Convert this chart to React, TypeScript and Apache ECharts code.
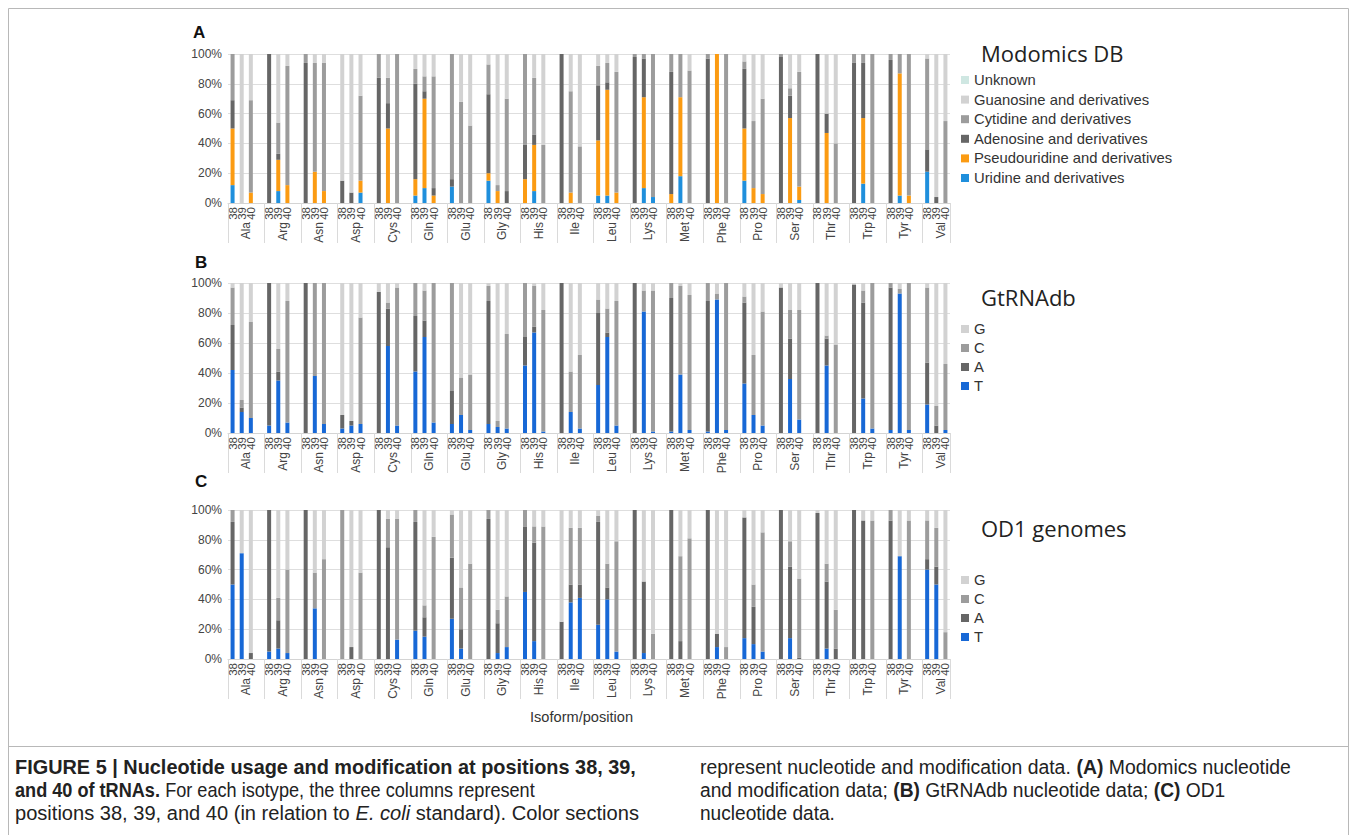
import React, { useEffect, useRef } from "react";
import * as echarts from "echarts";

const isotypes = ["Ala","Arg","Asn","Asp","Cys","Gln","Glu","Gly","His","Ile","Leu","Lys","Met","Phe","Pro","Ser","Thr","Trp","Tyr","Val"];
const positions = ["38","39","40"];
const yTicks = [0, 20, 40, 60, 80, 100];

// Panel A (Modomics DB), % per position 38/39/40 of each isotype
const aUridine  = [12,0,0, 0,8,0, 0,0,0, 0,0,7, 0,0,0, 5,10,0, 11,0,0, 15,0,0, 0,8,0, 0,0,0, 5,5,0, 0,10,4, 0,18,0, 0,0,0, 15,0,0, 0,0,2, 0,0,0, 0,13,0, 0,5,0, 21,0,0];
const aPseudo   = [38,0,7, 0,21,12, 0,21,8, 0,0,8, 0,50,0, 11,60,5, 0,0,0, 5,8,0, 16,31,0, 0,7,0, 37,71,7, 0,61,0, 6,53,0, 0,100,0, 35,10,6, 0,57,9, 0,47,0, 0,44,0, 0,82,5, 0,0,0];
const aAdenosine= [19,0,0, 100,4,0, 94,0,0, 15,7,0, 84,17,0, 64,5,5, 5,0,0, 53,0,8, 23,7,0, 100,0,0, 37,5,0, 98,26,0, 82,0,0, 97,0,0, 40,0,0, 98,15,0, 100,13,0, 94,37,0, 96,0,0, 15,4,0];
const aCytidine = [31,0,62, 0,21,80, 6,73,86, 0,0,57, 16,17,100, 10,10,75, 84,68,52, 20,4,62, 61,38,39, 0,68,38, 13,13,81, 2,3,96, 12,29,89, 3,0,100, 5,45,64, 2,5,77, 0,0,40, 6,6,100, 4,13,95, 61,0,55];
const aGuanosine= [0,100,31, 0,46,8, 0,6,6, 85,93,28, 0,16,0, 10,15,15, 0,32,48, 7,88,30, 0,16,61, 0,25,62, 8,6,12, 0,0,0, 0,0,11, 0,0,0, 5,45,30, 0,23,12, 0,40,60, 0,0,0, 0,0,0, 3,96,45];
const aUnknown  = [0,0,0, 0,0,0, 0,0,0, 0,0,0, 0,0,0, 0,0,0, 0,0,0, 0,0,0, 0,0,0, 0,0,0, 0,0,0, 0,0,0, 0,0,0, 0,0,0, 0,0,0, 0,0,0, 0,0,0, 0,0,0, 0,0,0, 0,0,0];

// Panel B (GtRNAdb)
const bT = [42,14,10, 5,35,7, 0,38,6, 3,5,6, 0,58,5, 41,64,7, 6,12,2, 6,4,3, 45,67,1, 0,14,3, 32,64,5, 0,81,1, 1,39,2, 1,89,2, 33,12,5, 0,36,9, 0,45,0, 0,23,3, 2,93,2, 19,0,2];
const bA = [30,3,0, 95,6,0, 100,0,0, 9,3,0, 94,25,0, 37,11,0, 22,0,0, 82,0,0, 19,4,0, 100,0,0, 48,3,0, 100,0,0, 89,0,0, 87,0,0, 54,0,0, 97,27,0, 100,18,0, 99,64,0, 95,0,0, 28,5,0];
const bC = [25,5,64, 0,15,81, 0,62,94, 0,0,71, 0,4,92, 22,20,93, 72,25,37, 10,4,63, 36,27,81, 0,27,49, 9,16,83, 0,14,94, 10,59,90, 12,4,98, 4,40,76, 0,19,73, 0,2,59, 0,8,97, 3,3,98, 50,13,44];
const bG = [3,78,26, 0,44,12, 0,0,0, 88,92,23, 6,13,3, 0,5,0, 0,63,61, 2,92,34, 0,2,18, 0,59,48, 11,17,12, 0,5,5, 0,2,8, 0,7,0, 9,48,19, 3,18,18, 0,35,41, 1,5,0, 0,4,0, 3,82,54];

// Panel C (OD1 genomes)
const cT = [50,71,0, 5,7,4, 0,34,0, 0,0,0, 0,0,13, 19,15,0, 27,7,0, 0,4,8, 45,12,0, 0,38,41, 23,40,5, 0,4,0, 0,0,0, 0,8,0, 14,10,5, 0,14,0, 0,7,0, 0,0,0, 0,69,0, 60,50,0];
const cA = [42,0,4, 95,19,0, 100,0,0, 0,8,0, 100,75,0, 73,13,0, 41,13,0, 94,20,0, 44,66,0, 25,12,9, 69,8,0, 100,48,0, 100,12,0, 100,9,0, 81,25,0, 100,48,1, 98,45,7, 100,93,0, 93,0,0, 7,12,0];
const cC = [8,0,0, 0,15,56, 0,24,67, 100,0,58, 0,19,81, 8,8,82, 29,28,64, 6,9,34, 11,11,89, 0,38,38, 4,16,74, 0,0,17, 0,57,81, 0,0,8, 0,15,80, 0,17,53, 0,12,26, 0,0,93, 7,0,93, 26,26,18];
const cG = [0,29,96, 0,59,40, 0,42,33, 0,92,42, 0,6,6, 0,64,18, 3,52,36, 0,67,58, 0,11,11, 75,12,12, 4,36,21, 0,48,83, 0,31,19, 0,83,92, 5,50,15, 0,21,46, 2,36,67, 0,7,7, 0,31,7, 7,12,82];

const colU = "#1f8fdc";
const colPsi = "#fb9b12";
const colA = "#666666";
const colC = "#9c9c9c";
const colG = "#d2d2d2";
const colUnk = "#cfe7e2";
const colT = "#1768d6";

const LEFT = 228;
const WIDTH = 722;
const panelTops = [54, 283, 510];
const panelHeights = [149, 150, 149];

function toSlots(v: number[]): (number | null)[] {
  const out: (number | null)[] = [];
  v.forEach((x, i) => {
    out.push(x);
    if (i % 3 === 2 && i < v.length - 1) out.push(null);
  });
  return out;
}

const posLabels: string[] = [];
isotypes.forEach((_, k) => {
  positions.forEach((p) => posLabels.push(p));
  if (k < isotypes.length - 1) posLabels.push("");
});
const posAxisData = posLabels.map((_, i) => "s" + i);
const isoAxisData: string[] = [];
for (let i = 0; i < 80; i++) {
  isoAxisData.push(i % 4 === 2 ? isotypes[(i - 2) / 4] : "_" + i);
}

function buildOption() {
  const grid = panelTops.map((t, i) => ({ left: LEFT, width: WIDTH, top: t, height: panelHeights[i] }));
  const xAxis: any[] = [];
  const yAxis: any[] = [];
  panelTops.forEach((_, p) => {
    xAxis.push({
      type: "category",
      gridIndex: p,
      data: posAxisData,
      boundaryGap: true,
      axisLine: { show: true, lineStyle: { color: "#d4d4d4", width: 1 } },
      axisTick: { show: false },
      axisLabel: {
        interval: 0,
        rotate: 90,
        margin: 4,
        fontSize: 11.5,
        color: "#444",
        fontFamily: "Liberation Sans",
        formatter: (_v: string, idx: number) => posLabels[idx],
      },
      splitLine: { show: false },
    });
    xAxis.push({
      type: "category",
      gridIndex: p,
      data: isoAxisData,
      boundaryGap: false,
      position: "bottom",
      axisLine: { show: false },
      axisTick: {
        show: true,
        length: 40,
        interval: (idx: number) => idx % 4 === 0 || idx === 79,
        lineStyle: { color: "#dadada", width: 1 },
      },
      axisLabel: {
        interval: (idx: number) => idx % 4 === 2,
        rotate: 90,
        margin: 19,
        fontSize: 12,
        color: "#444",
        fontFamily: "Liberation Sans",
        formatter: (v: string) => (v.charAt(0) === "_" ? "" : v),
      },
      splitLine: { show: false },
    });
    yAxis.push({
      type: "value",
      gridIndex: p,
      min: yTicks[0],
      max: yTicks[yTicks.length - 1],
      interval: 20,
      axisLine: { show: false },
      axisTick: { show: false },
      axisLabel: { formatter: "{value}%", fontSize: 12, color: "#444", margin: 6, fontFamily: "Liberation Sans" },
      splitLine: { show: true, lineStyle: { color: "#dedede", width: 1 } },
    });
  });

  const bar = (name: string, data: number[], color: string, p: number) => ({
    name,
    type: "bar",
    stack: "panel" + p,
    xAxisIndex: p * 2,
    yAxisIndex: p,
    barWidth: 4,
    data: toSlots(data),
    itemStyle: { color },
    emphasis: { disabled: true },
  });

  const series = [
    bar("Uridine and derivatives", aUridine, colU, 0),
    bar("Pseudouridine and derivatives", aPseudo, colPsi, 0),
    bar("Adenosine and derivatives", aAdenosine, colA, 0),
    bar("Cytidine and derivatives", aCytidine, colC, 0),
    bar("Guanosine and derivatives", aGuanosine, colG, 0),
    bar("Unknown", aUnknown, colUnk, 0),
    bar("T", bT, colT, 1),
    bar("A", bA, colA, 1),
    bar("C", bC, colC, 1),
    bar("G", bG, colG, 1),
    bar("T", cT, colT, 2),
    bar("A", cA, colA, 2),
    bar("C", cC, colC, 2),
    bar("G", cG, colG, 2),
  ];

  const legendBase = {
    orient: "vertical",
    icon: "rect",
    itemWidth: 8,
    itemHeight: 8,
    itemGap: 3.6,
    selectedMode: false,
    textStyle: { fontSize: 14.8, color: "#333", fontFamily: "Liberation Sans", lineHeight: 16 },
    padding: 0,
  };

  const legend = [
    { ...legendBase, left: 961, top: 72, data: ["Unknown", "Guanosine and derivatives", "Cytidine and derivatives", "Adenosine and derivatives", "Pseudouridine and derivatives", "Uridine and derivatives"] },
    { ...legendBase, left: 961, top: 321, itemGap: 3, data: ["G", "C", "A", "T"] },
    { ...legendBase, left: 961, top: 572, itemGap: 3, data: ["G", "C", "A", "T"] },
  ];

  const titleStyle = { fontSize: 22, fontFamily: "Open Sans", fill: "#222" };
  const letterStyle = { fontSize: 17, fontWeight: "bold", fontFamily: "Liberation Sans", fill: "#111" };
  const capStyle = { fontSize: 19.5, fontFamily: "Liberation Sans", fill: "#222" };
  const rich = { b: { fontWeight: "bold", fontSize: 19.5, fontFamily: "Liberation Sans", fill: "#222" }, i: { fontStyle: "italic", fontSize: 19.5, fontFamily: "Liberation Sans", fill: "#222" } };
  const capLine = (x: number, y: number, text: string, sx: number) => ({
    type: "text", x, y, scaleX: sx, style: { ...capStyle, text, rich, verticalAlign: "middle" },
  });

  const graphic = [
    { type: "rect", shape: { x: 8.5, y: 8.5, width: 1340, height: 900 }, style: { fill: "none", stroke: "#b8b8b8", lineWidth: 1 }, silent: true },
    { type: "line", shape: { x1: 8.5, y1: 746.5, x2: 1348.5, y2: 746.5 }, style: { stroke: "#b8b8b8", lineWidth: 1 }, silent: true },
    { type: "text", x: 193, y: 32, style: { ...letterStyle, text: "A", verticalAlign: "middle" } },
    { type: "text", x: 195, y: 262, style: { ...letterStyle, text: "B", verticalAlign: "middle" } },
    { type: "text", x: 195, y: 481, style: { ...letterStyle, text: "C", verticalAlign: "middle" } },
    { type: "text", x: 981, y: 53, style: { ...titleStyle, text: "Modomics DB", verticalAlign: "middle" } },
    { type: "text", x: 981, y: 297, style: { ...titleStyle, text: "GtRNAdb", verticalAlign: "middle" } },
    { type: "text", x: 981, y: 528, style: { ...titleStyle, text: "OD1 genomes", verticalAlign: "middle" } },
    { type: "text", x: 530, y: 717, style: { fontSize: 14.6, fontFamily: "Liberation Sans", fill: "#333", text: "Isoform/position", verticalAlign: "middle" } },
    capLine(15, 767, "{b|FIGURE 5 | Nucleotide usage and modification at positions 38, 39,}", 1.02),
    capLine(15, 790, "{b|and 40 of tRNAs.} For each isotype, the three columns represent", 0.93),
    capLine(15, 813, "positions 38, 39, and 40 (in relation to {i|E. coli} standard). Color sections", 1.03),
    capLine(700, 767, "represent nucleotide and modification data. {b|(A)} Modomics nucleotide", 0.995),
    capLine(700, 790, "and modification data; {b|(B)} GtRNAdb nucleotide data; {b|(C)} OD1", 0.985),
    capLine(700, 813, "nucleotide data.", 0.98),
  ];

  return {
    animation: false,
    backgroundColor: "#ffffff",
    textStyle: { fontFamily: "Liberation Sans" },
    grid,
    xAxis,
    yAxis,
    legend,
    series,
    graphic,
  };
}

export default function App() {
  const ref = useRef<HTMLDivElement>(null);
  useEffect(() => {
    document.body.style.margin = "0";
    if (!ref.current) return;
    const chart = echarts.init(ref.current, undefined, { renderer: "svg" });
    chart.setOption(buildOption() as any);
    return () => chart.dispose();
  }, []);
  return <div ref={ref} style={{ width: 1357, height: 835 }} />;
}
